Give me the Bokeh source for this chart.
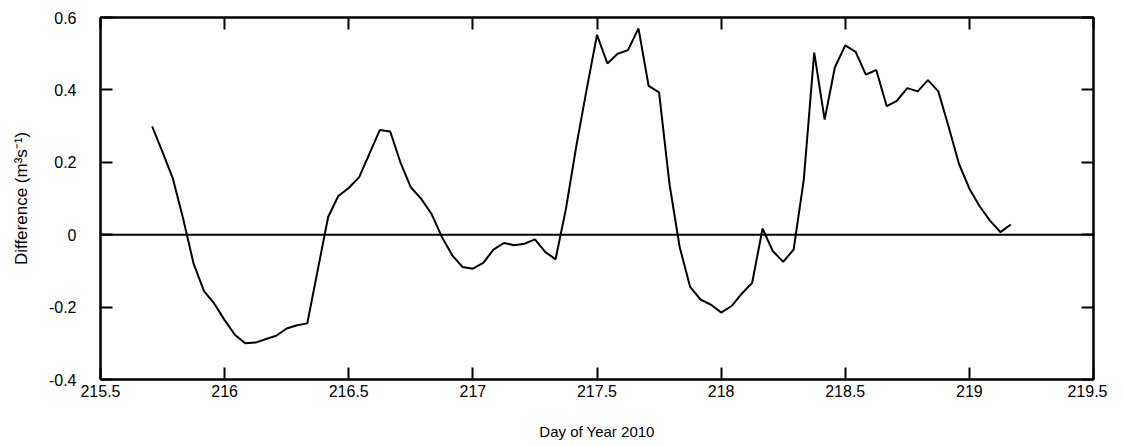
from bokeh.plotting import figure
from bokeh.models import Range1d, LinearAxis, FixedTicker, Span
from bokeh.embed import file_html
from bokeh.resources import INLINE

# Day of year (hourly samples) and flow difference (m^3 s^-1)
day = [215.708, 215.750, 215.792, 215.833, 215.875, 215.917, 215.958, 216.000,
       216.042, 216.083, 216.125, 216.167, 216.208, 216.250, 216.292, 216.333,
       216.375, 216.417, 216.458, 216.500, 216.542, 216.583, 216.625, 216.667,
       216.708, 216.750, 216.792, 216.833, 216.875, 216.917, 216.958, 217.000,
       217.042, 217.083, 217.125, 217.167, 217.208, 217.250, 217.292, 217.333,
       217.375, 217.417, 217.458, 217.500, 217.542, 217.583, 217.625, 217.667,
       217.708, 217.750, 217.792, 217.833, 217.875, 217.917, 217.958, 218.000,
       218.042, 218.083, 218.125, 218.167, 218.208, 218.250, 218.292, 218.333,
       218.375, 218.417, 218.458, 218.500, 218.542, 218.583, 218.625, 218.667,
       218.708, 218.750, 218.792, 218.833, 218.875, 218.917, 218.958, 219.000,
       219.042, 219.083, 219.125, 219.167]
diff = [0.299, 0.228, 0.154, 0.044, -0.080, -0.156, -0.190, -0.236,
        -0.277, -0.300, -0.298, -0.288, -0.279, -0.259, -0.250, -0.245,
        -0.098, 0.049, 0.107, 0.129, 0.159, 0.223, 0.289, 0.285,
        0.200, 0.131, 0.099, 0.058, -0.006, -0.057, -0.089, -0.094,
        -0.078, -0.041, -0.023, -0.029, -0.025, -0.013, -0.048, -0.068,
        0.072, 0.246, 0.400, 0.552, 0.473, 0.500, 0.510, 0.570,
        0.411, 0.393, 0.140, -0.034, -0.144, -0.179, -0.193, -0.215,
        -0.197, -0.163, -0.133, 0.017, -0.045, -0.075, -0.041, 0.152,
        0.503, 0.318, 0.462, 0.523, 0.505, 0.442, 0.455, 0.355,
        0.370, 0.405, 0.396, 0.427, 0.396, 0.297, 0.196, 0.127,
        0.078, 0.039, 0.007, 0.028]

x_ticks = [215.5, 216, 216.5, 217, 217.5, 218, 218.5, 219, 219.5]
x_tick_labels = ["215.5", "216", "216.5", "217", "217.5", "218", "218.5", "219", "219.5"]
y_ticks = [-0.4, -0.2, 0, 0.2, 0.4, 0.6]
y_tick_labels = ["-0.4", "-0.2", "0", "0.2", "0.4", "0.6"]

FONT = "Liberation Sans"

p = figure(width=1107, height=442,
           x_range=Range1d(215.5, 219.5), y_range=Range1d(-0.4, 0.6),
           output_backend="svg", toolbar_location=None,
           min_border_left=100, min_border_right=14,
           min_border_top=17, min_border_bottom=63)
p.xgrid.visible = False
p.ygrid.visible = False
p.outline_line_color = "black"
p.outline_line_width = 2
p.background_fill_color = "white"
p.border_fill_color = "white"

def style_axis(ax, ticks, labels, show_labels):
    ax.ticker = FixedTicker(ticks=ticks)
    if show_labels:
        ax.major_label_overrides = {t: l for t, l in zip(ticks, labels)}
    else:
        ax.major_label_overrides = {t: "" for t in ticks}
        ax.major_label_standoff = 0
    ax.minor_tick_line_color = None
    ax.major_tick_in = 12
    ax.major_tick_out = 0
    ax.major_tick_line_color = "black"
    ax.major_tick_line_width = 2
    ax.axis_line_color = "black"
    ax.axis_line_width = 2
    ax.major_label_text_font = FONT
    ax.major_label_text_color = "black"
    ax.major_label_text_font_size = "16px"

xb = p.xaxis[0]
style_axis(xb, x_ticks, x_tick_labels, True)
xb.major_label_standoff = 5
xb.axis_label = "Day of Year 2010"
xb.axis_label_text_font = FONT
xb.axis_label_text_font_size = "15px"
xb.axis_label_text_font_style = "normal"
xb.axis_label_text_color = "black"
xb.axis_label_standoff = 23

yl = p.yaxis[0]
style_axis(yl, y_ticks, y_tick_labels, True)
yl.major_label_standoff = 24
yl.axis_label = "Difference (m\u00b3s\u207b\u00b9)"
yl.axis_label_text_font = FONT
yl.axis_label_text_font_size = "17px"
yl.axis_label_text_font_style = "normal"
yl.axis_label_text_color = "black"
yl.axis_label_standoff = 15

xt = LinearAxis()
style_axis(xt, x_ticks, x_tick_labels, False)
p.add_layout(xt, "above")
yr = LinearAxis()
style_axis(yr, y_ticks, y_tick_labels, False)
p.add_layout(yr, "right")

p.add_layout(Span(location=0, dimension="width", line_color="black", line_width=2))

p.line(day, diff, line_color="black", line_width=2)

open("out.html", "w").write(file_html(p, INLINE))
